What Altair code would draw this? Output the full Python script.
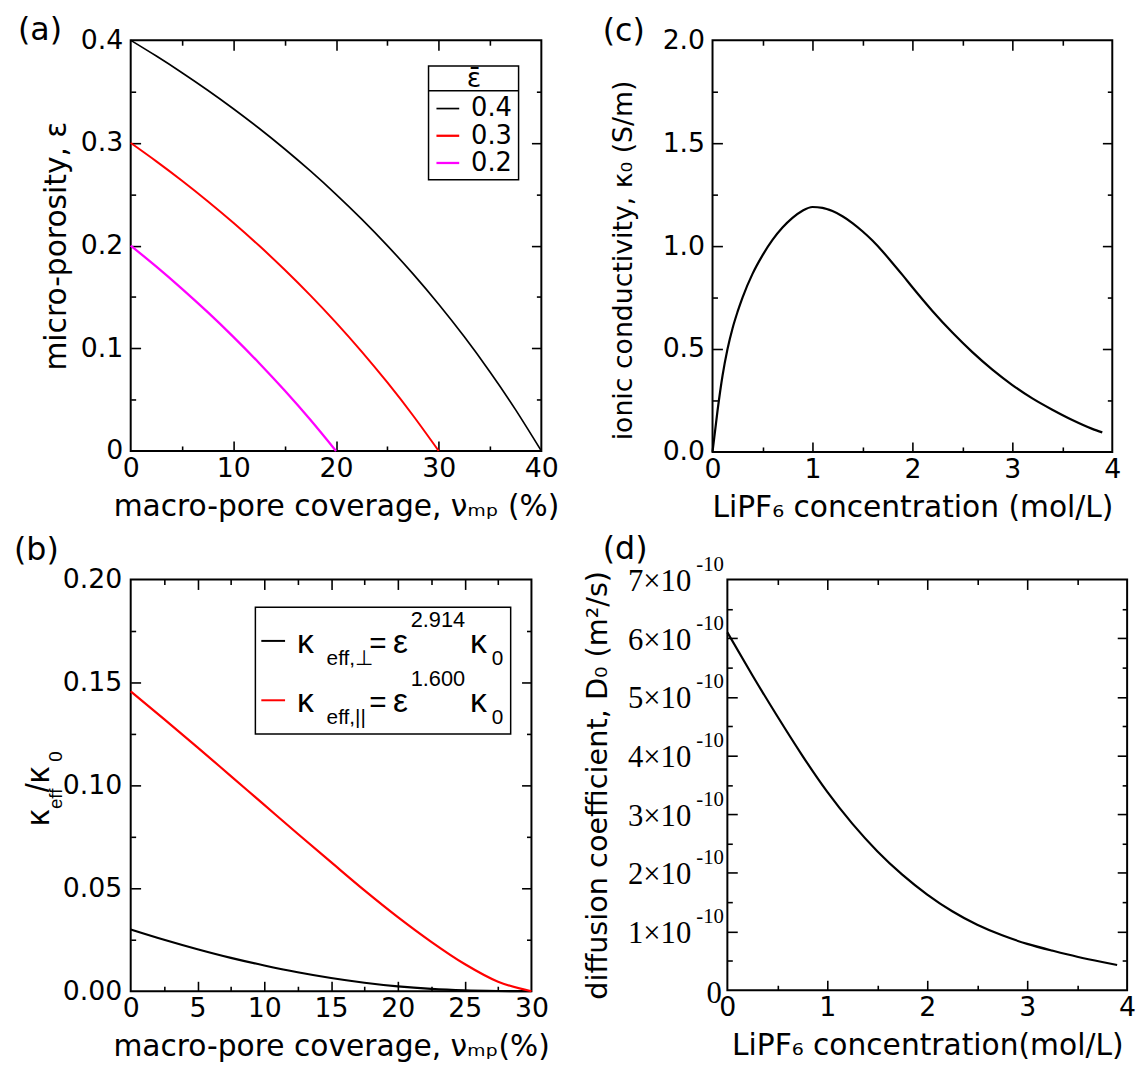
import altair as alt
import pandas as pd

FONT = "DejaVu Sans"          # axis labels, titles, panel letters
LFONT = "Liberation Sans"     # formula pieces
SERIF = "Liberation Serif"
TICK_FS = 27
TITLE_FS = 30
PANEL_FS = 32

# ---------------- data ----------------
# (a) micro-porosity vs macro-pore coverage for three total porosities
nu_a = [0, 2.5, 5, 7.5, 10, 12.5, 15, 17.5, 20, 22.5, 25, 27.5, 30, 32.5, 35, 37.5, 40]
eps_04 = [0.4, 0.38462, 0.36842, 0.35135, 0.33333, 0.31429, 0.29412, 0.27273, 0.25,
          0.22581, 0.2, 0.17241, 0.14286, 0.11111, 0.07692, 0.04, 0.0]
eps_03 = [0.3, 0.28205, 0.26316, 0.24324, 0.22222, 0.2, 0.17647, 0.15152, 0.125, 0.09677,
          0.06667, 0.03448, 0.0]
eps_02 = [0.2, 0.17949, 0.15789, 0.13514, 0.11111, 0.08571, 0.05882, 0.0303, 0.0]
eps_bar = ["0.4", "0.3", "0.2"]
colors_a = ["black", "#ff0000", "#ff00ff"]
widths_a = [1.7, 2.3, 2.3]

# (b) effective conductivity ratio
nu_b = [0, 2.5, 5, 7.5, 10, 12.5, 15, 17.5, 20, 22.5, 25, 27.5, 30]
k_perp = [0.0300, 0.0250, 0.0204, 0.0162, 0.0125, 0.0092, 0.0064, 0.0041, 0.0023,
          0.0011, 0.0004, 0.0001, 0.0]
k_par = [0.1457, 0.1322, 0.1185, 0.1045, 0.0905, 0.0765, 0.0627, 0.0490, 0.0360,
         0.0240, 0.0132, 0.0046, 0.0]
series_b = ["perp", "par"]
colors_b = ["black", "#ff0000"]
legend_b_sub = ["eff,⊥", "eff,||"]
legend_b_exp = ["2.914", "1.600"]

# (c) ionic conductivity vs LiPF6 concentration
c_c = [0, 0.05, 0.1, 0.15, 0.2, 0.25, 0.3, 0.4, 0.5, 0.6, 0.7, 0.8, 0.9, 1.0, 1.1, 1.2,
       1.3, 1.4, 1.5, 1.6, 1.7, 1.8, 1.9, 2.0, 2.2, 2.4, 2.6, 2.8, 3.0, 3.2, 3.4, 3.6,
       3.8, 3.9]
kappa0 = [0, 0.20, 0.37, 0.50, 0.60, 0.68, 0.75, 0.865, 0.955, 1.03, 1.09, 1.137, 1.172,
          1.19, 1.186, 1.170, 1.145, 1.112, 1.072, 1.027, 0.975, 0.918, 0.86, 0.80, 0.685,
          0.58, 0.485, 0.40, 0.325, 0.26, 0.205, 0.155, 0.112, 0.095]

# (d) diffusion coefficient vs LiPF6 concentration
c_d = [0, 0.25, 0.5, 0.75, 1.0, 1.25, 1.5, 1.75, 2.0, 2.25, 2.5, 2.75, 3.0, 3.25, 3.5, 3.75, 3.9]
D0 = [6.10e-10, 5.37e-10, 4.67e-10, 4.00e-10, 3.38e-10, 2.84e-10, 2.37e-10, 1.97e-10,
      1.63e-10, 1.345e-10, 1.115e-10, 0.935e-10, 0.79e-10, 0.675e-10, 0.57e-10, 0.48e-10,
      0.43e-10]
d_labels = [1e-10, 2e-10, 3e-10, 4e-10, 5e-10, 6e-10, 7e-10]
d_major = [1e-10, 2e-10, 3e-10, 4e-10, 5e-10, 6e-10]
d_minor = [0.5e-10, 1.5e-10, 2.5e-10, 3.5e-10, 4.5e-10, 5.5e-10, 6.5e-10]

# ---------------- frames ----------------
df_a = pd.concat([
    pd.DataFrame({"nu": nu_a[:len(e)], "eps": e, "ebar": lab})
    for e, lab in zip([eps_04, eps_03, eps_02], eps_bar)
])
df_b = pd.concat([
    pd.DataFrame({"nu": nu_b, "ratio": k_perp, "series": "perp"}),
    pd.DataFrame({"nu": nu_b, "ratio": k_par, "series": "par"}),
])
df_c = pd.DataFrame({"c": c_c, "kappa": kappa0})
df_d = pd.DataFrame({"c": c_d, "D": D0})
one = pd.DataFrame({"k": [0]})


def sc(dom):
    return alt.Scale(domain=dom, nice=False, zero=False)


def xaxis(values, title, title_y, fmt="d"):
    return alt.Axis(orient="bottom", values=values, format=fmt, ticks=False, domain=False,
                    grid=False, labelFlush=False, labelOverlap=False, labelBound=False,
                    labelPadding=5, labelFontSize=TICK_FS, labelFont=FONT, labelColor="black",
                    title=title, titleFont=FONT, titleFontSize=TITLE_FS, minExtent=0,
                    titleFontWeight="normal", titleColor="black", titleY=title_y,
                    titleBaseline="alphabetic")


def yaxis(values, title, title_x, expr, font=FONT, pad=8, size=TICK_FS, offset=0,
          title_size=TITLE_FS, title_y=None):
    kw = dict(orient="left", values=values, ticks=False, domain=False, grid=False,
              labelOverlap=False, labelBound=False, labelPadding=pad, labelFontSize=size,
              labelFont=font, labelColor="black", labelExpr=expr, title=title, minExtent=0)
    if offset:
        kw["labelOffset"] = offset
    if title is not None:
        kw.update(titleFont=FONT, titleFontSize=title_size, titleFontWeight="normal",
                  titleColor="black", titleAngle=270, titleBaseline="alphabetic",
                  titleX=title_x)
        if title_y is not None:
            kw["titleY"] = title_y
    return alt.Axis(**kw)


def frame_layers(df, xf, yf, xdom, ydom, xmaj, xmin, ymaj, ymin):
    out = []
    for ox, oy, xv, yv, sz in [("bottom", "left", xmaj, ymaj, 10),
                               ("bottom", "left", xmin, ymin, 5),
                               ("top", "right", xmaj, ymaj, 10),
                               ("top", "right", xmin, ymin, 5)]:
        common = dict(tickSize=sz, offset=-sz, tickWidth=1.6, tickColor="black",
                      labels=False, domain=False, grid=False, title=None, minExtent=0)
        out.append(alt.Chart(df).mark_point(opacity=0).encode(
            x=alt.X(xf, type="quantitative", scale=sc(xdom),
                    axis=alt.Axis(orient=ox, values=xv, **common)),
            y=alt.Y(yf, type="quantitative", scale=sc(ydom),
                    axis=alt.Axis(orient=oy, values=yv, **common)),
        ))
    return out


def txt(s, x, y, size, angle=0, align="left", baseline="alphabetic", font=LFONT,
        color="black"):
    kw = dict(text=s, align=align, baseline=baseline, fontSize=size, font=font, color=color)
    if angle:
        kw["angle"] = angle
    return alt.Chart(one).mark_text(**kw).encode(x=alt.value(x), y=alt.value(y))


def hline(x1, x2, y, color="black", width=2):
    return alt.Chart(one).mark_rule(color=color, strokeWidth=width).encode(
        x=alt.value(x1), x2=alt.value(x2), y=alt.value(y))


def box(x1, y1, x2, y2):
    return alt.Chart(one).mark_rect(fill="white", stroke="black", strokeWidth=1.5).encode(
        x=alt.value(x1), x2=alt.value(x2), y=alt.value(y1), y2=alt.value(y2))


# ---------------- panel (a) ----------------
W_A, H_A = 415, 415
lines_a = alt.Chart(df_a).mark_line(interpolate="natural").encode(
    x=alt.X("nu:Q", scale=sc([0, 40]),
            axis=xaxis([0, 10, 20, 30, 40], "macro-pore coverage, νₘₚ (%)", 65)),
    y=alt.Y("eps:Q", scale=sc([0, 0.4]),
            axis=yaxis([0, 0.1, 0.2, 0.3, 0.4], "micro-porosity, ε", -66,
                       "datum.value == 0 ? '0' : format(datum.value, '.1f')")),
    color=alt.Color("ebar:N", scale=alt.Scale(domain=eps_bar, range=colors_a), legend=None),
    strokeWidth=alt.StrokeWidth("ebar:N", scale=alt.Scale(domain=eps_bar, range=widths_a),
                                legend=None),
)
legend_a = [box(301, 26, 392, 141), hline(301, 392, 51, width=1.5),
            txt("ε\u0304", 347, 47, 27, align="center", font=FONT)]
for i, (lab, col, wd) in enumerate(zip(eps_bar, colors_a, widths_a)):
    yy = 69 + 27.5 * i
    legend_a += [hline(309, 332, yy, color=col, width=wd),
                 txt(lab, 344, yy, 26, baseline="middle", font=FONT)]
panel_a = alt.layer(
    lines_a, *frame_layers(df_a, "nu", "eps", [0, 40], [0, 0.4], [10, 20, 30], [5, 15, 25, 35],
                           [0.1, 0.2, 0.3], [0.05, 0.15, 0.25, 0.35]),
    *legend_a, txt("(a)", -114, 0, PANEL_FS, font=FONT)
).resolve_axis(x="independent", y="independent").properties(width=W_A, height=H_A)

# ---------------- panel (b) ----------------
W_B, H_B = 405, 416
lines_b = alt.Chart(df_b).mark_line(strokeWidth=2.2, interpolate="monotone").encode(
    x=alt.X("nu:Q", scale=sc([0, 30]),
            axis=xaxis([0, 5, 10, 15, 20, 25, 30], "macro-pore coverage, νₘₚ(%)", 65)),
    y=alt.Y("ratio:Q", scale=sc([0, 0.2]),
            axis=yaxis([0, 0.05, 0.1, 0.15, 0.2], None, 0, "format(datum.value, '.2f')",
                       pad=9)),
    color=alt.Color("series:N", scale=alt.Scale(domain=series_b, range=colors_b), legend=None),
)
legend_b = [box(126, 28, 384, 156)]
for i, (sub, sup, col) in enumerate(zip(legend_b_sub, legend_b_exp, colors_b)):
    dy = 60 * i
    legend_b += [
        hline(132, 156, 62 + dy, color=col),
        txt("κ", 168, 74 + dy, 34),
        txt(sub, 198, 86 + dy, 21),
        txt("=", 241, 74 + dy, 30),
        txt("ε", 265, 74 + dy, 34),
        txt(sup, 283, 48 + dy, 22),
        txt("κ", 343, 74 + dy, 34),
        txt("0", 365, 86 + dy, 21),
    ]
ytitle_b = [
    txt("κ", -83, 249, 33, 270),
    txt("eff", -69, 232, 19, 270),
    txt("/κ", -83, 215, 33, 270),
    txt("0", -69, 184, 19, 270),
]
panel_b = alt.layer(
    lines_b, *frame_layers(df_b, "nu", "ratio", [0, 30], [0, 0.2], [5, 10, 15, 20, 25],
                           [2.5, 7.5, 12.5, 17.5, 22.5, 27.5], [0.05, 0.1, 0.15],
                           [0.025, 0.075, 0.125, 0.175]),
    *legend_b, *ytitle_b, txt("(b)", -118, -20, PANEL_FS, font=FONT)
).resolve_axis(x="independent", y="independent").properties(width=W_B, height=H_B)

# ---------------- panel (c) ----------------
W_C, H_C = 404, 416
line_c = alt.Chart(df_c).mark_line(strokeWidth=2.2, color="black",
                                   interpolate="monotone").encode(
    x=alt.X("c:Q", scale=sc([0, 4]),
            axis=xaxis([0, 1, 2, 3, 4], "LiPF₆ concentration (mol/L)", 65)),
    y=alt.Y("kappa:Q", scale=sc([0, 2]),
            axis=yaxis([0, 0.5, 1, 1.5, 2], "ionic conductivity, κ₀ (S/m)", -82,
                       "format(datum.value, '.1f')", title_size=27, title_y=222)),
)
panel_c = alt.layer(
    line_c, *frame_layers(df_c, "c", "kappa", [0, 4], [0, 2], [1, 2, 3], [0.5, 1.5, 2.5, 3.5],
                          [0.5, 1, 1.5], [0.25, 0.75, 1.25, 1.75]),
    txt("(c)", -111, 1, PANEL_FS, font=FONT)
).resolve_axis(x="independent", y="independent").properties(width=W_C, height=H_C)

# ---------------- panel (d) ----------------
W_D, H_D = 404, 415
line_d = alt.Chart(df_d).mark_line(strokeWidth=2.2, color="black",
                                   interpolate="natural").encode(
    x=alt.X("c:Q", scale=sc([0, 4]),
            axis=xaxis([0, 1, 2, 3, 4], "LiPF₆ concentration(mol/L)", 65)),
    y=alt.Y("D:Q", scale=sc([0, 7e-10]),
            axis=yaxis(d_labels, "diffusion coefficient, D₀ (m²/s)", -122,
                       "round(datum.value * 1e10) + '×10'", font=SERIF, pad=37, size=31,
                       offset=2, title_size=29)),
)
hidden_x = alt.X("c:Q", scale=sc([0, 4]), axis=None)
sup_d = alt.Chart(df_d).mark_point(opacity=0).encode(
    x=hidden_x,
    y=alt.Y("D:Q", scale=sc([0, 7e-10]),
            axis=yaxis(d_labels, None, 0, "'-10'", font=SERIF, pad=4, size=21, offset=-15)))
zero_d = alt.Chart(df_d).mark_point(opacity=0).encode(
    x=hidden_x,
    y=alt.Y("D:Q", scale=sc([0, 7e-10]),
            axis=yaxis([0], None, 0, "'0'", font=SERIF, pad=6, size=31, offset=3)))
panel_d = alt.layer(
    line_d, *frame_layers(df_d, "c", "D", [0, 4], [0, 7e-10], [1, 2, 3], [0.5, 1.5, 2.5, 3.5],
                          d_major, d_minor),
    sup_d, zero_d, txt("(d)", -126, -21, PANEL_FS, font=FONT)
).resolve_axis(x="independent", y="independent").properties(width=W_D, height=H_D)

row1 = alt.hconcat(panel_a, panel_c, spacing=173, bounds="flush")
row2 = alt.hconcat(panel_b, panel_d, spacing=198, bounds="flush")
chart = alt.vconcat(row1, row2, spacing=9).resolve_scale(
    color="independent", strokeWidth="independent").properties(
    padding={"left": 5, "top": 0, "right": 2, "bottom": 0}
).configure_view(stroke="black", strokeWidth=2)

chart.save("out.html", embed_options={"renderer": "svg", "actions": False})
